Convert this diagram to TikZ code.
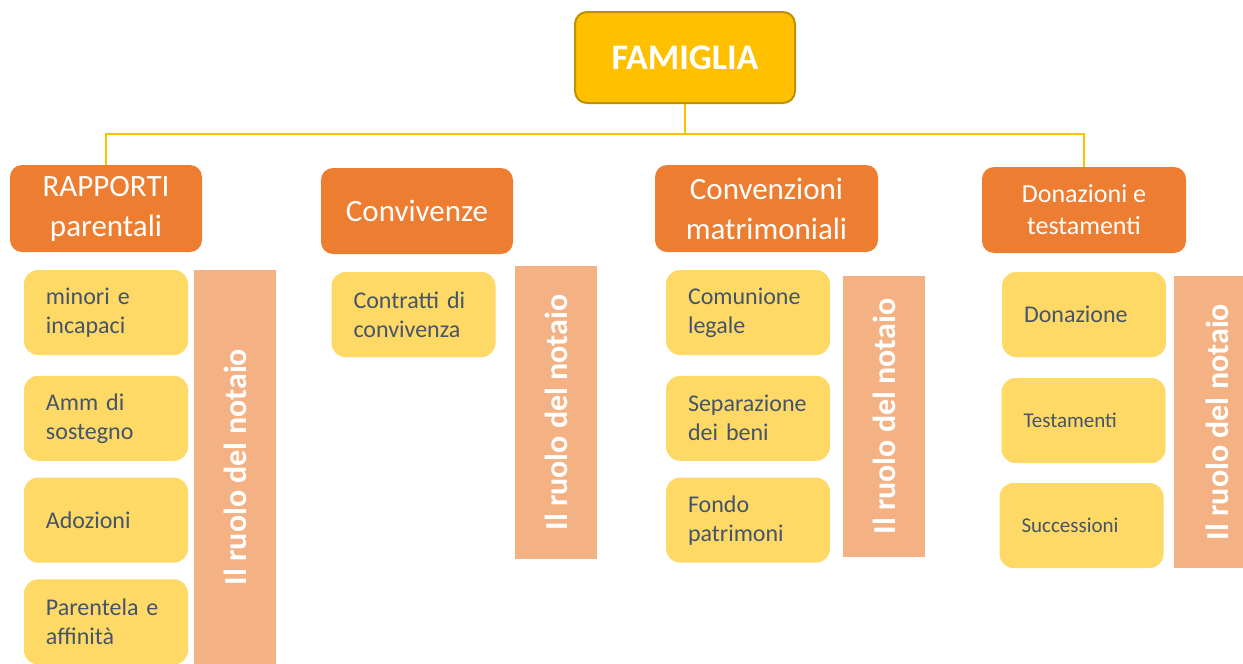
\documentclass[tikz,border=0pt]{standalone}
\usepackage{fontspec}
\setmainfont{Carlito}
\usepackage{xcolor}
\usepackage{tikz}
\usetikzlibrary{positioning, calc}
\definecolor{oro}{HTML}{FFC000}
\definecolor{orobordo}{HTML}{BF9000}
\definecolor{arancio}{HTML}{ED7D31}
\definecolor{giallo}{HTML}{FFD966}
\definecolor{salmone}{HTML}{F4B183}
\definecolor{ardesia}{HTML}{44546A}
\tikzstyle{radice} = [rectangle, rounded corners=6pt, minimum width=110pt, minimum height=45.5pt, text centered, draw=orobordo, line width=1pt, fill=oro, text=white, font=\fontsize{18}{22}\selectfont\bfseries]
\tikzstyle{categoria} = [rectangle, rounded corners=6pt, minimum height=43.5pt, align=center, fill=arancio, text=white, font=\fontsize{15.5}{20}\selectfont]
\tikzstyle{voce} = [rectangle, rounded corners=7pt, minimum width=82pt, minimum height=42.5pt, inner xsep=11pt, text width=60pt, align=left, fill=giallo, text=ardesia, font=\fontsize{12}{14.5}\selectfont]
\tikzstyle{ruolo} = [rectangle, rotate=90, fill=salmone, text=white, font=\fontsize{16}{19}\selectfont\bfseries]
\tikzstyle{link} = [oro, line width=1pt]

\begin{document}
\begin{tikzpicture}[x=0.5pt, y=0.5pt]
    \useasboundingbox (0,0) rectangle (1243,-664);
    \clip (0,0) rectangle (1243,-664);
    \node (famiglia) [radice] at (685,-57.5) {FAMIGLIA};

    \node (rapporti) [categoria, minimum width=96pt] at (106,-208.5) {RAPPORTI\\parentali};
    \node (convivenze) [categoria, minimum width=96pt, minimum height=43pt] at (417,-211) {Convivenze};
    \node (convenzioni) [categoria, minimum width=111.5pt] at (766.5,-208.5) {Convenzioni\\matrimoniali};
    \node (donazioni) [categoria, minimum width=102pt, minimum height=43pt, font=\fontsize{13}{16}\selectfont] at (1084,-210) {Donazioni e\\testamenti};

    % colonna 1
    \node (minori) [voce] at (106,-312.5) {minori e\\incapaci};
    \node (amm) [voce, below=10pt of minori] {Amm di\\sostegno};
    \node (adozioni) [voce, below=8pt of amm] {Adozioni};
    \node (parentela) [voce, below=8pt of adozioni] {Parentela e\\affinità};
    \node (ruolo1) [ruolo, minimum width=197pt, minimum height=41pt] at (235,-467) {Il ruolo del notaio};

    % colonna 2
    \node (contratti) [voce] at (413.5,-314.5) {Contratti di\\convivenza};
    \node (ruolo2) [ruolo, minimum width=146.5pt, minimum height=41pt] at (556,-412.5) {Il ruolo del notaio};

    % colonna 3
    \node (comunione) [voce] at (748,-312.5) {Comunione\\legale};
    \node (separazione) [voce, below=10pt of comunione] {Separazione\\dei beni};
    \node (fondo) [voce, below=8pt of separazione] {Fondo\\patrimoni};
    \node (ruolo3) [ruolo, minimum width=140.5pt, minimum height=41pt] at (884,-416.5) {Il ruolo del notaio};

    % colonna 4
    \node (donazione) [voce] at (1084,-314.5) {Donazione};
    \node (testamenti) [voce, font=\fontsize{10.5}{13}\selectfont] at (1083.5,-420.5) {Testamenti};
    \node (successioni) [voce, font=\fontsize{10.5}{13}\selectfont] at (1081.5,-525.5) {Successioni};
    \node (ruolo4) [ruolo, minimum width=146pt, minimum height=43pt] at (1217,-422) {Il ruolo del notaio};

    % collegamenti
    \coordinate (bus) at ($(famiglia.south)+(0,-30)$);
    \draw [link] (famiglia.south) -- (bus) -| (rapporti.north);
    \draw [link] (bus) -| (donazioni.north);
\end{tikzpicture}
\end{document}
